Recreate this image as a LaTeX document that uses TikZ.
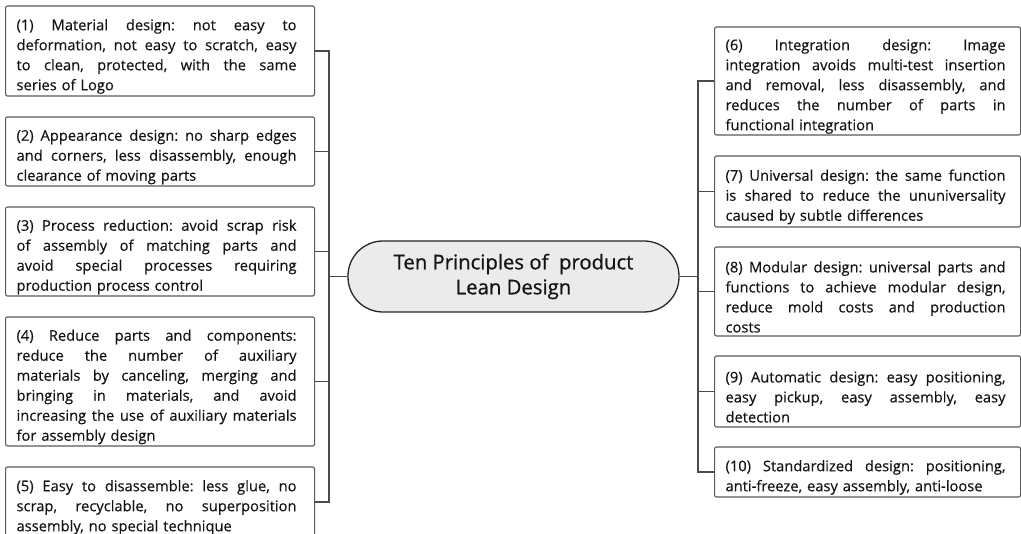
\documentclass[tikz,border=0pt]{standalone}
\usepackage{fontspec}
\setmainfont[FakeBold=0.3]{Open Sans}
\newfontfamily\titlefont[FakeBold=0.8]{Open Sans}
\definecolor{boxgray}{HTML}{5A5A5A}
\definecolor{linegray}{HTML}{4A4A4A}
\definecolor{txt}{HTML}{141414}
\definecolor{titlefill}{HTML}{EBEBEB}
\newcommand\jl[1]{\makebox[280pt][s]{\spaceskip=.26em plus 1fil\relax #1}}
\tikzset{
  itembox/.style={draw=boxgray, line width=1.1pt, rounded corners=2pt, anchor=west,
    inner xsep=11pt, inner ysep=0pt, align=left, text=txt,
    font=\fontsize{14.7}{20}\selectfont\frenchspacing,
    execute at begin node={\rule{0pt}{22pt}}},
  lbox/.style={itembox, text width=287pt, minimum height=#1},
  rbox/.style={itembox, text width=284pt, minimum height=#1},
  titlebox/.style={draw=black!85, line width=1.3pt, fill=titlefill, rounded corners=35pt,
    minimum width=331pt, minimum height=71pt, align=center, text=txt,
    font=\titlefont\fontsize{20.3}{25}\selectfont},
  conn/.style={draw=linegray, line width=1.2pt}
}
\begin{document}
\begin{tikzpicture}[x=1pt,y=-1pt]
\clip (0,0) rectangle (1021,534);
\fill[white] (0,0) rectangle (1021,534);
% centre
\node[titlebox] (c) at (513.5,276.5) {Ten Principles of\ \ product\\Lean Design};
% left items
\node[lbox=90pt] (b1) at (5,51) {\jl{(1) Material design: not easy to}\\\jl{deformation, not easy to scratch, easy}\\\jl{to clean, protected, with the same}\\series of Logo};
\node[lbox=69pt] (b2) at (5,151.5) {\jl{(2) Appearance design: no sharp edges}\\\jl{and corners, less disassembly, enough}\\clearance of moving parts};
\node[lbox=89pt] (b3) at (5,251.5) {\jl{(3) Process reduction: avoid scrap risk}\\\jl{of assembly of matching parts and}\\\jl{avoid special processes requiring}\\production process control};
\node[lbox=129pt] (b4) at (5,381.5) {\jl{(4) Reduce parts and components:}\\\jl{reduce the number of auxiliary}\\\jl{materials by canceling, merging and}\\\jl{bringing in materials, and avoid}\\\jl{increasing the use of auxiliary materials}\\for assembly design};
\node[lbox=70pt] (b5) at (5,502) {\jl{(5) Easy to disassemble: less glue, no}\\\jl{scrap, recyclable, no superposition}\\assembly, no special technique};
% right items
\node[rbox=108pt] (b6) at (714,81) {\jl{(6) Integration design: Image}\\\jl{integration avoids multi-test insertion}\\\jl{and removal, less disassembly, and}\\\jl{reduces the number of parts in}\\functional integration};
\node[rbox=71pt] (b7) at (714,191.5) {\jl{(7) Universal design: the same function}\\\jl{is shared to reduce the ununiversality}\\caused by subtle differences};
\node[rbox=89pt] (b8) at (714,291.5) {\jl{(8) Modular design: universal parts and}\\\jl{functions to achieve modular design,}\\\jl{reduce mold costs and production}\\costs};
\node[rbox=71pt] (b9) at (714,391.5) {\jl{(9) Automatic design: easy positioning,}\\\jl{easy pickup, easy assembly, easy}\\detection};
\node[rbox=50pt] (b10) at (714,472) {\jl{(10) Standardized design: positioning,}\\anti-freeze, easy assembly, anti-loose};
% trunks
\coordinate (tL) at (329,0);
\coordinate (tR) at (698,0);
\draw[conn] (b1.east) -- (b1.east -| tL) -- (b5.east -| tL) -- (b5.east);
\foreach \n in {b2,b3,b4} \draw[conn] (\n.east) -- (\n.east -| tL);
\draw[conn] (c.west) -- (c.west -| tL);
\draw[conn] (b6.west) -- (b6.west -| tR) -- (b10.west -| tR) -- (b10.west);
\foreach \n in {b7,b8,b9} \draw[conn] (\n.west) -- (\n.west -| tR);
\draw[conn] (c.east) -- (c.east -| tR);
\end{tikzpicture}
\end{document}
